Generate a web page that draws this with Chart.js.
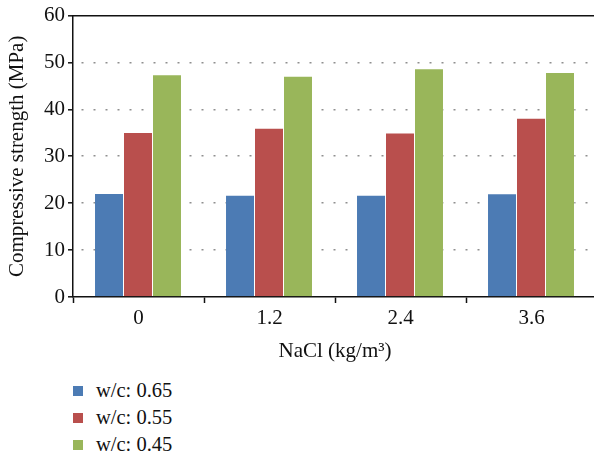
<!DOCTYPE html>
<html>
<head>
<meta charset="utf-8">
<script src="https://cdn.jsdelivr.net/npm/chart.js@4/dist/chart.umd.min.js"></script>
<style>
  html, body { margin: 0; padding: 0; background: #fff; overflow: hidden; width: 594px; height: 455px; }
  #wrap { position: absolute; left: 0; top: 0; width: 600px; height: 370px; }
  #legend { position: absolute; left: 73px; top: 377px; font-family: "Liberation Serif", "DejaVu Serif", serif; font-size: 20.5px; color: #111; }
  .item { height: 27px; line-height: 27px; white-space: nowrap; }
  .sw { display: inline-block; width: 10px; height: 10px; margin-right: 13px; vertical-align: middle; position: relative; top: -1px; }
</style>
</head>
<body>
<div id="wrap"><canvas id="c"></canvas></div>
<div id="legend"></div>
<script>
const categories = ["0", "1.2", "2.4", "3.6"];
const seriesNames = ["w/c: 0.65", "w/c: 0.55", "w/c: 0.45"];
const wc065 = [22.2, 21.8, 21.8, 22.1];
const wc055 = [35.2, 36.1, 35.1, 38.2];
const wc045 = [47.5, 47.2, 48.8, 48.0];
const yTicks = [0, 10, 20, 30, 40, 50, 60];
const colors = ["#4C7BB4", "#B94F4D", "#99B65A"];

const FONT = "'Liberation Serif', 'DejaVu Serif', serif";
const values = [wc065, wc055, wc045];

const data = {
  labels: categories,
  datasets: values.map((v, i) => ({
    label: seriesNames[i],
    data: v,
    backgroundColor: colors[i],
    borderColor: "rgba(255,255,255,0.25)",
    borderWidth: { top: 1, right: 1, left: 0, bottom: 0 },
    borderSkipped: false,
    barPercentage: 1.0,
    categoryPercentage: 0.664
  }))
};

new Chart(document.getElementById("c"), {
  type: "bar",
  data,
  options: {
    responsive: true,
    maintainAspectRatio: false,
    animation: false,
    layout: { padding: { top: 15, right: 3, left: 0, bottom: 0 } },
    plugins: { legend: { display: false }, tooltip: { enabled: false } },
    scales: {
      x: {
        position: "bottom",
        afterFit: s => { s.height = 73; },
        grid: {
          offset: true,
          drawOnChartArea: false,
          drawTicks: true,
          tickLength: 6,
          tickColor: "#111",
          tickWidth: 1.5
        },
        border: { display: true, color: "#111", width: 1.5 },
        ticks: { color: "#111", font: { family: FONT, size: 21 }, padding: 3 },
        title: {
          display: true,
          text: "NaCl (kg/m\u00B3)",
          color: "#111",
          font: { family: FONT, size: 21 },
          padding: { top: 0, bottom: 6 }
        }
      },
      xTop: {
        position: "top",
        type: "category",
        labels: categories,
        afterFit: s => { s.height = 0; },
        grid: { display: false, drawTicks: false },
        ticks: { display: false },
        border: { display: true, color: "#111", width: 1.5 }
      },
      y: {
        min: 0,
        max: 60,
        afterFit: s => { s.width = 73; },
        afterBuildTicks: s => { s.ticks = yTicks.map(v => ({ value: v })); },
        grid: {
          color: c => (c.tick && (c.tick.value === 0 || c.tick.value === 60)) ? "rgba(0,0,0,0)" : "#8f8f8f",
          lineWidth: 1.6,
          drawTicks: true,
          tickLength: 5,
          tickColor: "#111",
          tickWidth: 1.5
        },
        border: { display: true, color: "#111", width: 1.5, dash: [2, 10], dashOffset: -8 },
        ticks: { color: "#111", font: { family: FONT, size: 21 }, padding: 3 },
        title: {
          display: true,
          text: "Compressive strength (MPa)",
          color: "#111",
          font: { family: FONT, size: 21 },
          padding: { top: 5, bottom: 0 }
        }
      }
    }
  }
});

const legend = document.getElementById("legend");
seriesNames.forEach((name, i) => {
  const row = document.createElement("div");
  row.className = "item";
  const sw = document.createElement("span");
  sw.className = "sw";
  sw.style.background = colors[i];
  row.appendChild(sw);
  row.appendChild(document.createTextNode(name));
  legend.appendChild(row);
});
</script>
</body>
</html>
